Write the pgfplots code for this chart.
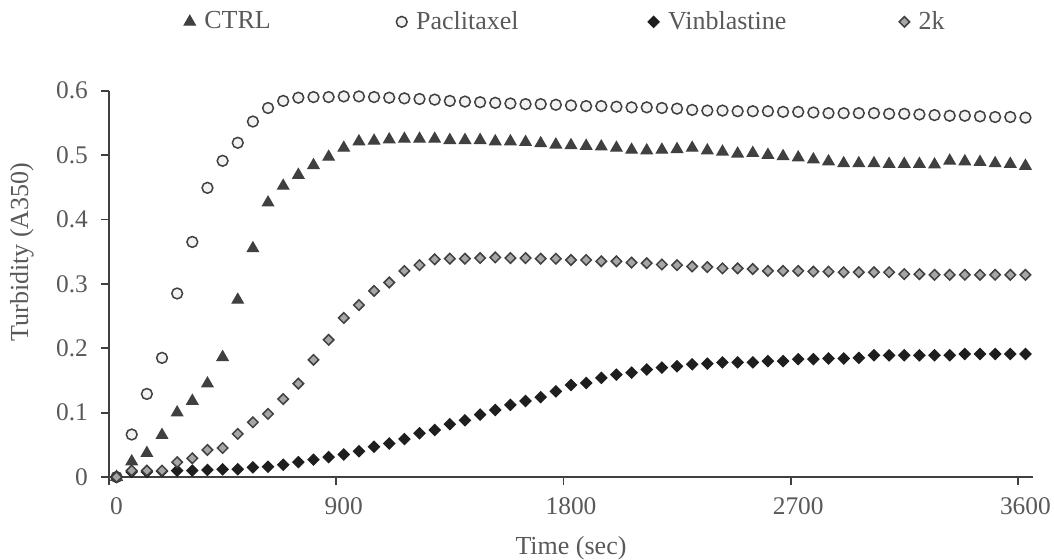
\documentclass[border=0pt]{standalone}
\usepackage{fontspec}
\setmainfont{Liberation Serif}
\usepackage{pgfplots}
\usepackage{pgfplotstable}
\pgfplotsset{compat=1.18}

\definecolor{txtgray}{RGB}{89,89,89}
\definecolor{axgray}{RGB}{64,64,64}
\definecolor{ctrlc}{RGB}{64,64,64}
\definecolor{vinc}{RGB}{30,30,30}
\definecolor{kfill}{RGB}{166,166,166}
\definecolor{pfill}{RGB}{242,242,242}

% time (s), CTRL, Paclitaxel, Vinblastine, 2k
\pgfplotstableread{
t    ctrl   pac    vin    k2
0    0.000  0.000  0.000  0.000
60   0.024  0.066  0.008  0.010
120  0.037  0.129  0.008  0.010
180  0.065  0.185  0.009  0.010
240  0.100  0.285  0.010  0.023
300  0.118  0.365  0.010  0.029
360  0.145  0.449  0.011  0.042
420  0.186  0.491  0.012  0.045
480  0.275  0.519  0.012  0.067
540  0.355  0.552  0.015  0.085
600  0.426  0.573  0.016  0.098
660  0.452  0.584  0.019  0.121
720  0.469  0.589  0.023  0.145
780  0.484  0.590  0.027  0.182
840  0.497  0.590  0.031  0.213
900  0.511  0.591  0.035  0.247
960  0.521  0.591  0.040  0.267
1020 0.522  0.590  0.047  0.289
1080 0.524  0.589  0.052  0.302
1140 0.525  0.588  0.059  0.320
1200 0.525  0.587  0.068  0.329
1260 0.525  0.586  0.073  0.338
1320 0.523  0.584  0.082  0.339
1380 0.523  0.583  0.088  0.339
1440 0.523  0.582  0.097  0.340
1500 0.521  0.581  0.104  0.341
1560 0.521  0.580  0.112  0.340
1620 0.520  0.579  0.118  0.340
1680 0.518  0.579  0.124  0.339
1740 0.516  0.578  0.133  0.339
1800 0.515  0.577  0.143  0.337
1860 0.514  0.576  0.146  0.337
1920 0.513  0.576  0.154  0.335
1980 0.511  0.575  0.159  0.335
2040 0.508  0.574  0.162  0.333
2100 0.507  0.574  0.167  0.332
2160 0.508  0.573  0.170  0.330
2220 0.509  0.572  0.172  0.329
2280 0.511  0.570  0.175  0.327
2340 0.507  0.569  0.176  0.326
2400 0.505  0.569  0.178  0.324
2460 0.502  0.568  0.178  0.324
2520 0.503  0.568  0.178  0.323
2580 0.500  0.568  0.180  0.320
2640 0.498  0.567  0.180  0.320
2700 0.496  0.567  0.183  0.320
2760 0.493  0.566  0.183  0.319
2820 0.490  0.565  0.184  0.319
2880 0.487  0.565  0.184  0.318
2940 0.487  0.565  0.185  0.318
3000 0.487  0.565  0.189  0.318
3060 0.486  0.564  0.189  0.318
3120 0.486  0.564  0.189  0.315
3180 0.486  0.563  0.189  0.315
3240 0.485  0.562  0.189  0.314
3300 0.491  0.561  0.189  0.314
3360 0.490  0.561  0.191  0.314
3420 0.489  0.560  0.191  0.314
3480 0.487  0.559  0.191  0.314
3540 0.486  0.559  0.191  0.314
3600 0.483  0.558  0.191  0.314
}\turb

\begin{document}
\begin{tikzpicture}
\useasboundingbox (-54.5pt,-41pt) rectangle (472.5pt,238.5pt);
\begin{axis}[
    at={(0,0)}, anchor=south west,
    scale only axis, width=462pt, height=193.2pt,
    xmin=-30, xmax=3630, ymin=0, ymax=0.6,
    axis lines*=left,
    axis line style={draw=axgray, line width=0.9pt},
    % ticks sit on the category boundaries, labels on the category centres
    xtick={-30,870,1770,2670,3570},
    xticklabels={0,900,1800,2700,3600},
    ytick={0,0.1,...,0.6},
    yticklabels={0,0.1,0.2,0.3,0.4,0.5,0.6},
    tick style={draw=axgray, line width=0.9pt},
    major tick length=4pt,
    tick align=outside,
    tick label style={font=\fontsize{12.7}{15}\selectfont, text=txtgray},
    xticklabel style={xshift=3.79pt, yshift=-3pt},
    yticklabel style={xshift=-3pt},
    xlabel={Time (sec)},
    ylabel={Turbidity (A350)},
    every axis x label/.style={at={(axis description cs:0.5,0)}, anchor=center,
        yshift=-35.5pt, font=\fontsize{13}{15}\selectfont, text=txtgray},
    every axis y label/.style={at={(axis description cs:0,0.582)}, anchor=center,
        xshift=-43.5pt, rotate=90, font=\fontsize{13}{15}\selectfont, text=txtgray},
    clip=false,
    legend columns=4,
    legend style={at={(axis description cs:0.081,1.178)}, anchor=west,
        draw=none, fill=none, inner sep=0pt,
        font=\fontsize{13}{15}\selectfont, text=txtgray,
        /tikz/every even column/.append style={column sep=0pt}},
    legend image code/.code={\draw[#1] plot coordinates {(0pt,0pt)};},
]
\addplot[only marks, mark=triangle*, mark size=3.2pt, draw=ctrlc, fill=ctrlc, line width=0.6pt]
    table[x=t, y=ctrl] {\turb};
\addlegendentry{\makebox[96.5pt][l]{\hspace{2.5pt}CTRL}}
\addplot[only marks, mark=*, mark size=2.7pt, draw=axgray, fill=pfill, line width=0.75pt]
    table[x=t, y=pac] {\turb};
\addlegendentry{\makebox[116.5pt][l]{\hspace{2.5pt}Paclitaxel}}
\addplot[only marks, mark=square*, mark size=1.95pt, mark options={rotate=45}, draw=vinc, fill=vinc, line width=0.6pt]
    table[x=t, y=vin] {\turb};
\addlegendentry{\makebox[116pt][l]{\hspace{2.5pt}Vinblastine}}
\addplot[only marks, mark=square*, mark size=1.85pt, mark options={rotate=45}, draw=axgray, fill=kfill, line width=0.75pt]
    table[x=t, y=k2] {\turb};
\addlegendentry{\hspace{2.5pt}2k}
\end{axis}
\end{tikzpicture}
\end{document}
